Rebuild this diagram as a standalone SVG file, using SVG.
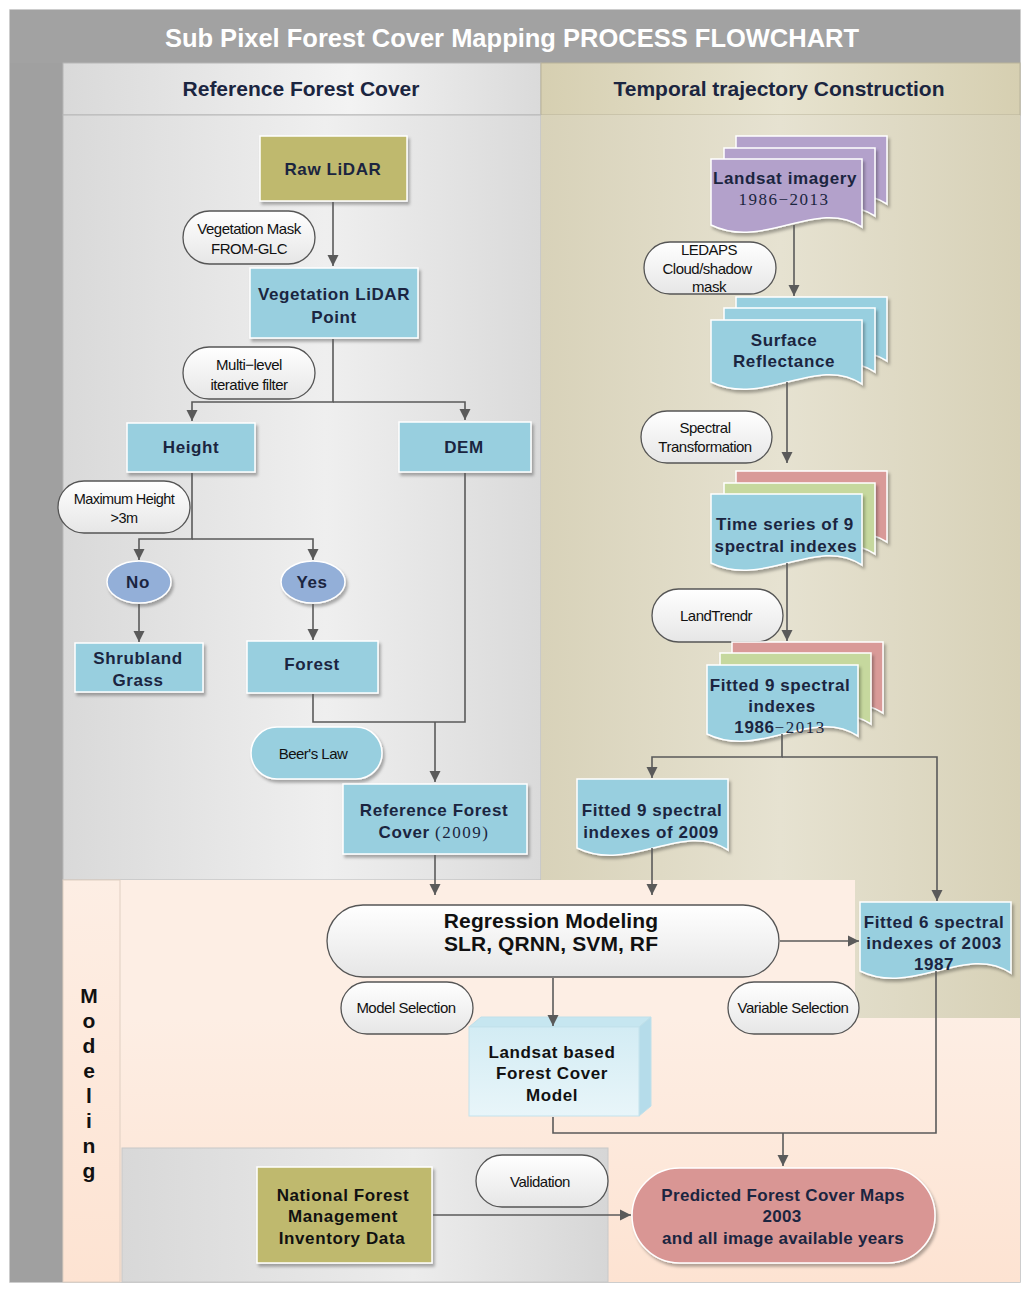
<svg xmlns="http://www.w3.org/2000/svg" xmlns:xlink="http://www.w3.org/1999/xlink" width="1024" height="1296" viewBox="0 0 1024 1296">
<style>
.node{font-family:"Liberation Sans",Arial,sans-serif;font-weight:bold;font-size:17px;fill:#1b2540;text-anchor:middle;letter-spacing:0.6px}
.blk{fill:#111}
.big{font-size:21px;letter-spacing:0.1px}
.tight{letter-spacing:0.3px}
.lbl{font-family:"Liberation Sans",Arial,sans-serif;font-size:15px;fill:#111;text-anchor:middle;letter-spacing:-0.5px}
.sm{font-size:14.5px;letter-spacing:-0.6px}
.serif{font-family:"Liberation Serif","Times New Roman",serif;font-weight:normal;letter-spacing:1.5px}
.hdr{font-family:"Liberation Sans",Arial,sans-serif;font-weight:bold;font-size:21px;fill:#1b2540;text-anchor:middle}
.pill{fill:url(#gPill);stroke:#555;stroke-width:1.3}
.box{stroke:#fff;stroke-width:1.5;filter:url(#sh)}
.blue{fill:#98cfdf}
.olive{fill:#bfb96e}
.conn path{fill:none;stroke:#5a5a5a;stroke-width:1.6}
</style>
<defs>
<filter id="sh" x="-10%" y="-10%" width="130%" height="140%">
<feDropShadow dx="2" dy="3" stdDeviation="1.5" flood-color="#000" flood-opacity="0.3"/>
</filter>
<marker id="ar" markerUnits="userSpaceOnUse" markerWidth="12" markerHeight="12" viewBox="0 0 12 12" refX="11" refY="6" orient="auto">
<path d="M0,0.5 L11,6 L0,11.5 Z" fill="#5a5a5a"/>
</marker>
<linearGradient id="gPill" x1="0" y1="0" x2="0" y2="1">
<stop offset="0" stop-color="#ffffff"/><stop offset="1" stop-color="#e6e6e6"/>
</linearGradient>
<linearGradient id="gLeft" x1="0" y1="0" x2="1" y2="0">
<stop offset="0" stop-color="#d9d9d9"/><stop offset="0.55" stop-color="#efefef"/><stop offset="1" stop-color="#dadada"/>
</linearGradient>
<linearGradient id="gRight" x1="0" y1="0" x2="1" y2="0">
<stop offset="0" stop-color="#d8d2b9"/><stop offset="0.5" stop-color="#e6e2d1"/><stop offset="1" stop-color="#d7d1b7"/>
</linearGradient>
<linearGradient id="gHdrL" x1="0" y1="0" x2="1" y2="0">
<stop offset="0" stop-color="#d9d9d9"/><stop offset="0.6" stop-color="#f3f3f3"/><stop offset="1" stop-color="#dadada"/>
</linearGradient>
<linearGradient id="gHdrR" x1="0" y1="0" x2="1" y2="0">
<stop offset="0" stop-color="#d6cfb1"/><stop offset="0.5" stop-color="#e7e3cf"/><stop offset="1" stop-color="#d6cfb1"/>
</linearGradient>
<linearGradient id="gPeach" x1="0" y1="0" x2="0" y2="1">
<stop offset="0" stop-color="#fdeee4"/><stop offset="1" stop-color="#fde3d2"/>
</linearGradient>
<linearGradient id="gGrayBot" x1="0" y1="0" x2="1" y2="0">
<stop offset="0" stop-color="#d8d8d8"/><stop offset="0.6" stop-color="#ececec"/><stop offset="1" stop-color="#d6d6d6"/>
</linearGradient>
<linearGradient id="gCube" x1="0" y1="0" x2="0" y2="1">
<stop offset="0" stop-color="#d3ecf4"/><stop offset="1" stop-color="#e8f5f9"/>
</linearGradient>
<path id="doc66" d="M0,0 H151 V68 C105.7,38 52.9,92 0,66 Z"/>
<path id="doc62" d="M0,0 H151 V64 C105.7,34 52.9,88 0,62 Z"/>
<path id="doc69" d="M0,0 H151 V71 C105.7,41 52.9,95 0,69 Z"/>
</defs>

<!-- background lanes -->
<g id="lanes">
<rect x="10" y="10" width="1010" height="1272" fill="#fdeee4" stroke="#bdbdbd" stroke-width="1.5"/>
<rect x="10" y="10" width="1010" height="53" fill="#a2a2a2"/>
<rect x="10" y="63" width="53" height="1219" fill="#a0a0a0"/>
<rect x="63" y="63" width="478" height="52" fill="url(#gHdrL)" stroke="#b5b5b5" stroke-width="1"/>
<rect x="541" y="63" width="479" height="52" fill="url(#gHdrR)" stroke="#b9b39a" stroke-width="1"/>
<rect x="63" y="115" width="478" height="765" fill="url(#gLeft)" stroke="#b8b8b8" stroke-width="1"/>
<rect x="541" y="115" width="479" height="903" fill="url(#gRight)"/>
<rect x="120" y="880" width="735" height="138" fill="#fdeee4"/>
<rect x="120" y="1018" width="900" height="264" fill="url(#gPeach)"/>
<rect x="63" y="880" width="57" height="402" fill="url(#gPeach)" stroke="#e0cfc2" stroke-width="1"/>
<rect x="122" y="1148" width="486" height="134" fill="url(#gGrayBot)" stroke="#c8c8c8" stroke-width="1"/>
<text x="512" y="47" text-anchor="middle" font-family="'Liberation Sans',Arial,sans-serif" font-weight="bold" font-size="25.5" fill="#ffffff">Sub Pixel Forest Cover Mapping PROCESS FLOWCHART</text>
<text class="hdr" x="301" y="96">Reference Forest Cover</text>
<text class="hdr" x="779" y="96">Temporal trajectory Construction</text>
<text font-family="'Liberation Sans',Arial,sans-serif" font-weight="bold" font-size="21" fill="#111" text-anchor="middle">
<tspan x="89" y="1003">M</tspan><tspan x="89" y="1028">o</tspan><tspan x="89" y="1053">d</tspan><tspan x="89" y="1078">e</tspan><tspan x="89" y="1103">l</tspan><tspan x="89" y="1128">i</tspan><tspan x="89" y="1153">n</tspan><tspan x="89" y="1178">g</tspan>
</text>
</g>

<!-- left column nodes -->
<g id="raw-lidar">
<rect class="box olive" x="260" y="136" width="147" height="65"/>
<text class="node" x="333" y="175">Raw  LiDAR</text>
</g>
<g id="veg-mask">
<rect class="pill" x="183" y="211" width="132" height="53" rx="26.5"/>
<text class="lbl" x="249" y="234">Vegetation  Mask</text>
<text class="lbl" x="249" y="254">FROM-GLC</text>
</g>
<g id="veg-lidar">
<rect class="box blue" x="250" y="268" width="168" height="70"/>
<text class="node" x="334" y="300">Vegetation  LiDAR</text>
<text class="node" x="334" y="323">Point</text>
</g>
<g id="multi-level">
<rect class="pill" x="183" y="347" width="132" height="52" rx="26"/>
<text class="lbl" x="249" y="370">Multi−level</text>
<text class="lbl" x="249" y="390">iterative filter</text>
</g>
<g id="height">
<rect class="box blue" x="127" y="423" width="128" height="49"/>
<text class="node" x="191" y="453">Height</text>
</g>
<g id="dem">
<rect class="box blue" x="399" y="422" width="132" height="50"/>
<text class="node" x="464" y="453">DEM</text>
</g>
<g id="max-height">
<rect class="pill" x="58" y="481" width="132" height="52" rx="26"/>
<text class="lbl sm" x="124" y="504">Maximum Height</text>
<text class="lbl sm" x="124" y="523">&gt;3m</text>
</g>
<g id="no">
<ellipse cx="139" cy="582" rx="32" ry="21" fill="#93afd8" stroke="#fff" stroke-width="1.5" filter="url(#sh)"/>
<text class="node" x="138" y="588">No</text>
</g>
<g id="yes">
<ellipse cx="313" cy="582" rx="32" ry="21" fill="#93afd8" stroke="#fff" stroke-width="1.5" filter="url(#sh)"/>
<text class="node" x="312" y="588">Yes</text>
</g>
<g id="shrubland">
<rect class="box blue" x="75" y="643" width="128" height="49"/>
<text class="node" x="138" y="664">Shrubland</text>
<text class="node" x="138" y="686">Grass</text>
</g>
<g id="forest">
<rect class="box blue" x="247" y="641" width="131" height="52"/>
<text class="node" x="312" y="670">Forest</text>
</g>
<g id="beers-law">
<rect x="251" y="727" width="131" height="52" rx="26" fill="#98cfdf" stroke="#fff" stroke-width="1.5" filter="url(#sh)"/>
<text class="lbl" x="313" y="759">Beer's Law</text>
</g>
<g id="reference-forest-cover">
<rect class="box blue" x="343" y="784" width="184" height="70"/>
<text class="node" x="434" y="816">Reference Forest</text>
<text class="node" x="434" y="838">Cover <tspan class="serif">(2009)</tspan></text>
</g>

<!-- right column nodes -->
<g id="landsat-imagery">
<use href="#doc66" x="736" y="136" fill="#b3a1cb" stroke="#fff" stroke-width="1.5" filter="url(#sh)"/>
<use href="#doc66" x="724" y="148" fill="#b3a1cb" stroke="#fff" stroke-width="1.5" filter="url(#sh)"/>
<use href="#doc66" x="711" y="159" fill="#b3a1cb" stroke="#fff" stroke-width="1.5" filter="url(#sh)"/>
<text class="node" x="785" y="184">Landsat imagery</text>
<text class="node serif" x="784" y="205">1986−2013</text>
</g>
<g id="ledaps">
<rect class="pill" x="644" y="242" width="132" height="52" rx="26"/>
<text class="lbl" x="709" y="255">LEDAPS</text>
<text class="lbl" x="707" y="274">Cloud/shadow</text>
<text class="lbl" x="709" y="292">mask</text>
</g>
<g id="surface-reflectance">
<use href="#doc62" x="736" y="297" fill="#98cfdf" stroke="#fff" stroke-width="1.5" filter="url(#sh)"/>
<use href="#doc62" x="724" y="308" fill="#98cfdf" stroke="#fff" stroke-width="1.5" filter="url(#sh)"/>
<use href="#doc62" x="711" y="320" fill="#98cfdf" stroke="#fff" stroke-width="1.5" filter="url(#sh)"/>
<text class="node" x="784" y="346">Surface</text>
<text class="node" x="784" y="367">Reflectance</text>
</g>
<g id="spectral-transformation">
<rect class="pill" x="641" y="411" width="131" height="52" rx="26"/>
<text class="lbl" x="705" y="433">Spectral</text>
<text class="lbl" x="705" y="452">Transformation</text>
</g>
<g id="time-series">
<use href="#doc69" x="736" y="471" fill="#d99a98" stroke="#fff" stroke-width="1.5" filter="url(#sh)"/>
<use href="#doc69" x="724" y="483" fill="#c6d89e" stroke="#fff" stroke-width="1.5" filter="url(#sh)"/>
<use href="#doc69" x="711" y="494" fill="#98cfdf" stroke="#fff" stroke-width="1.5" filter="url(#sh)"/>
<text class="node" x="785" y="530">Time series of 9</text>
<text class="node" x="786" y="552">spectral indexes</text>
</g>
<g id="landtrendr">
<rect class="pill" x="652" y="589" width="131" height="53" rx="26.5"/>
<text class="lbl" x="716" y="621">LandTrendr</text>
</g>
<g id="fitted-9">
<use href="#doc69" x="732" y="642" fill="#d99a98" stroke="#fff" stroke-width="1.5" filter="url(#sh)"/>
<use href="#doc69" x="720" y="653" fill="#c6d89e" stroke="#fff" stroke-width="1.5" filter="url(#sh)"/>
<use href="#doc69" x="707" y="665" fill="#98cfdf" stroke="#fff" stroke-width="1.5" filter="url(#sh)"/>
<text class="node" x="780" y="691">Fitted 9 spectral</text>
<text class="node" x="782" y="712">indexes</text>
<text class="node" x="780" y="733">1986<tspan class="serif">−2013</tspan></text>
</g>
<g id="fitted-2009">
<use href="#doc69" x="577" y="779" fill="#98cfdf" stroke="#fff" stroke-width="1.5" filter="url(#sh)"/>
<text class="node" x="652" y="816">Fitted 9 spectral</text>
<text class="node" x="651" y="838">indexes of 2009</text>
</g>
<g id="fitted-6">
<use href="#doc69" x="860" y="902" fill="#98cfdf" stroke="#fff" stroke-width="1.5" filter="url(#sh)"/>
<text class="node" x="934" y="928">Fitted 6 spectral</text>
<text class="node" x="934" y="949">indexes of 2003</text>
<text class="node" x="934" y="970">1987</text>
</g>

<!-- modeling nodes -->
<g id="regression">
<rect class="pill" x="327" y="905" width="452" height="72" rx="36"/>
<text class="node blk big" x="551" y="928">Regression Modeling</text>
<text class="node blk big" x="551" y="951">SLR, QRNN, SVM, RF</text>
</g>
<g id="model-selection">
<rect class="pill" x="341" y="982" width="132" height="52" rx="26"/>
<text class="lbl" x="406" y="1013">Model Selection</text>
</g>
<g id="variable-selection">
<rect class="pill" x="728" y="982" width="131" height="52" rx="26"/>
<text class="lbl" x="793" y="1013">Variable Selection</text>
</g>
<g id="landsat-model">
<path d="M469,1027 L481,1017 H651 L639,1027 Z" fill="#c6e6f0" stroke="#bfe0ea" stroke-width="1"/>
<path d="M639,1027 L651,1017 V1106 L639,1116 Z" fill="#b5dcea" stroke="#bfe0ea" stroke-width="1"/>
<rect x="469" y="1027" width="170" height="89" fill="url(#gCube)" stroke="#c3e2ec" stroke-width="1"/>
<text class="node blk" x="552" y="1058">Landsat based</text>
<text class="node blk" x="552" y="1079">Forest Cover</text>
<text class="node blk" x="552" y="1101">Model</text>
</g>
<g id="validation">
<rect class="pill" x="476" y="1155" width="132" height="52" rx="26"/>
<text class="lbl" x="540" y="1187">Validation</text>
</g>
<g id="national-forest">
<rect class="box olive" x="257" y="1167" width="175" height="96"/>
<text class="node blk" x="343" y="1201">National Forest</text>
<text class="node blk" x="343" y="1222">Management</text>
<text class="node blk" x="342" y="1244">Inventory Data</text>
</g>
<g id="predicted">
<rect x="632" y="1168" width="303" height="95" rx="47.5" fill="#d99694" stroke="#fff" stroke-width="1.5" filter="url(#sh)"/>
<text class="node tight" x="783" y="1201">Predicted Forest Cover Maps</text>
<text class="node tight" x="782" y="1222">2003</text>
<text class="node tight" x="783" y="1244">and all image available years</text>
</g>

<!-- connectors -->
<g id="connectors" class="conn">
<path d="M333,202 V266" marker-end="url(#ar)"/>
<path d="M333,339 V402 H192 V421" marker-end="url(#ar)"/>
<path d="M333,402 H465 V420" marker-end="url(#ar)"/>
<path d="M192,473 V539 H139 V560" marker-end="url(#ar)"/>
<path d="M192,539 H313 V560" marker-end="url(#ar)"/>
<path d="M139,604 V642" marker-end="url(#ar)"/>
<path d="M313,604 V640" marker-end="url(#ar)"/>
<path d="M313,694 V722 H465 V473"/>
<path d="M435,722 V782" marker-end="url(#ar)"/>
<path d="M435,855 V895" marker-end="url(#ar)"/>
<path d="M794,225 V296" marker-end="url(#ar)"/>
<path d="M787,382 V463" marker-end="url(#ar)"/>
<path d="M787,563 V641" marker-end="url(#ar)"/>
<path d="M782,734 V757 H652 V778" marker-end="url(#ar)"/>
<path d="M782,757 H937 V901" marker-end="url(#ar)"/>
<path d="M652,848 V895" marker-end="url(#ar)"/>
<path d="M780,941 H859" marker-end="url(#ar)"/>
<path d="M553,978 V1026" marker-end="url(#ar)"/>
<path d="M936,971 V1133 H553 V1117"/>
<path d="M783,1133 V1166" marker-end="url(#ar)"/>
<path d="M433,1215 H631" marker-end="url(#ar)"/>
</g>
</svg>
